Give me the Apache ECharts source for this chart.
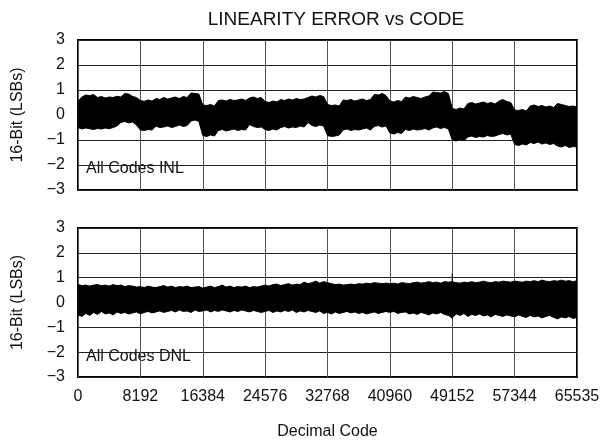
<!DOCTYPE html>
<html><head><meta charset="utf-8">
<script src="https://cdn.jsdelivr.net/npm/echarts@6/dist/echarts.min.js"></script>
<style>html,body{margin:0;padding:0;background:#fff}#c{width:603px;height:446px}</style>
</head><body><div id="c"></div>
<script>
// Sample step along the code axis (codes 0..65536, one sample every 512 codes)
const CODE_STEP = 512;
const X_TICKS = [0, 8192, 16384, 24576, 32768, 40960, 49152, 57344, 65535];
const Y_TICKS = [3, 2, 1, 0, -1, -2, -3];

// INL envelope (LSB)
const INL_UPPER = [
  0.55,0.72,0.80,0.78,0.82,0.70,0.74,0.68,0.72,0.70,0.75,0.72,0.86,0.84,0.74,0.70,
  0.58,0.55,0.60,0.56,0.66,0.62,0.70,0.64,0.68,0.72,0.66,0.74,0.70,0.88,0.86,0.84,
  0.40,0.38,0.42,0.36,0.58,0.60,0.56,0.62,0.58,0.60,0.64,0.58,0.68,0.72,0.66,0.70,
  0.54,0.50,0.56,0.52,0.62,0.58,0.64,0.60,0.66,0.62,0.64,0.70,0.76,0.72,0.78,0.74,
  0.42,0.38,0.40,0.36,0.60,0.58,0.62,0.56,0.60,0.64,0.58,0.62,0.82,0.80,0.86,0.78,
  0.56,0.52,0.58,0.54,0.72,0.68,0.74,0.70,0.66,0.72,0.76,0.92,0.90,0.88,0.94,0.86,
  0.26,0.22,0.28,0.24,0.46,0.50,0.44,0.48,0.52,0.46,0.50,0.44,0.56,0.62,0.54,0.50,
  0.20,0.18,0.22,0.16,0.36,0.40,0.34,0.38,0.32,0.36,0.30,0.46,0.42,0.38,0.34,0.36,0.32
];
const INL_LOWER = [
  -0.50,-0.56,-0.52,-0.55,-0.58,-0.54,-0.56,-0.52,-0.55,-0.50,-0.44,-0.30,-0.26,-0.32,-0.28,-0.40,
  -0.60,-0.62,-0.58,-0.60,-0.45,-0.50,-0.48,-0.44,-0.50,-0.46,-0.40,-0.46,-0.42,-0.24,-0.20,-0.26,
  -0.82,-0.86,-0.80,-0.84,-0.62,-0.58,-0.64,-0.60,-0.56,-0.62,-0.58,-0.60,-0.38,-0.46,-0.50,-0.48,
  -0.58,-0.62,-0.56,-0.60,-0.50,-0.46,-0.52,-0.48,-0.50,-0.44,-0.48,-0.30,-0.42,-0.46,-0.40,-0.44,
  -0.82,-0.86,-0.84,-0.80,-0.60,-0.56,-0.62,-0.58,-0.60,-0.56,-0.52,-0.60,-0.46,-0.42,-0.48,-0.44,
  -0.72,-0.76,-0.70,-0.74,-0.58,-0.62,-0.56,-0.60,-0.58,-0.54,-0.60,-0.52,-0.48,-0.54,-0.50,-0.56,
  -1.00,-1.04,-0.98,-1.02,-0.88,-0.84,-0.90,-0.86,-0.88,-0.82,-0.86,-0.84,-0.78,-0.74,-0.80,-0.76,
  -1.18,-1.22,-1.16,-1.20,-1.10,-1.14,-1.08,-1.16,-1.12,-1.18,-1.14,-1.24,-1.28,-1.22,-1.30,-1.26,-1.28
];

// DNL envelope (LSB)
const DNL_UPPER = [
  0.72,0.68,0.70,0.66,0.70,0.72,0.68,0.70,0.66,0.72,0.68,0.70,0.64,0.68,0.66,0.62,
  0.64,0.60,0.66,0.62,0.60,0.64,0.68,0.62,0.66,0.60,0.64,0.62,0.66,0.60,0.62,0.64,
  0.58,0.62,0.66,0.60,0.64,0.70,0.62,0.66,0.60,0.64,0.62,0.66,0.60,0.64,0.62,0.66,
  0.70,0.66,0.72,0.74,0.68,0.72,0.76,0.70,0.74,0.72,0.82,0.76,0.80,0.86,0.78,0.84,
  0.80,0.76,0.72,0.74,0.70,0.72,0.74,0.72,0.76,0.74,0.78,0.76,0.80,0.78,0.76,0.78,
  0.76,0.78,0.74,0.80,0.78,0.76,0.80,0.82,0.78,0.80,0.84,0.80,0.82,0.78,0.84,0.82,
  0.84,0.80,0.78,0.82,0.80,0.84,0.80,0.82,0.86,0.82,0.80,0.84,0.82,0.86,0.84,0.82,
  0.86,0.84,0.82,0.86,0.84,0.88,0.84,0.90,0.86,0.84,0.88,0.86,0.90,0.86,0.88,0.84,0.88
];
const DNL_LOWER = [
  -0.50,-0.56,-0.44,-0.52,-0.40,-0.48,-0.36,-0.46,-0.42,-0.50,-0.38,-0.44,-0.40,-0.46,-0.42,-0.38,
  -0.46,-0.40,-0.36,-0.42,-0.38,-0.34,-0.40,-0.36,-0.32,-0.38,-0.30,-0.36,-0.34,-0.40,-0.30,-0.36,
  -0.34,-0.30,-0.38,-0.32,-0.36,-0.30,-0.34,-0.38,-0.32,-0.36,-0.30,-0.34,-0.38,-0.32,-0.36,-0.40,
  -0.36,-0.32,-0.40,-0.34,-0.38,-0.32,-0.36,-0.30,-0.40,-0.34,-0.38,-0.32,-0.36,-0.40,-0.34,-0.44,
  -0.40,-0.46,-0.38,-0.44,-0.40,-0.36,-0.42,-0.38,-0.44,-0.40,-0.46,-0.42,-0.38,-0.44,-0.40,-0.36,
  -0.40,-0.36,-0.44,-0.40,-0.38,-0.46,-0.42,-0.48,-0.40,-0.44,-0.50,-0.42,-0.46,-0.40,-0.48,-0.52,
  -0.62,-0.46,-0.52,-0.44,-0.56,-0.48,-0.52,-0.46,-0.54,-0.50,-0.58,-0.48,-0.52,-0.56,-0.50,-0.54,
  -0.58,-0.50,-0.56,-0.60,-0.52,-0.58,-0.54,-0.62,-0.56,-0.52,-0.60,-0.66,-0.58,-0.62,-0.56,-0.64,-0.60
];
// Isolated DNL spikes [code, peak LSB]
const DNL_SPIKES = [[49152, 1.16], [49152, -0.66]];

const FONT = 'Liberation Sans, Arial, sans-serif';
const chart = echarts.init(document.getElementById('c'), null, {renderer: 'canvas'});

// one closed polygon per band: upper envelope left->right, lower envelope right->left
function bandRenderer(up, lo) {
  return function (params, api) {
    const pts = [];
    for (let i = 0; i < up.length; i++) pts.push(api.coord([i * CODE_STEP, up[i]]));
    for (let i = lo.length - 1; i >= 0; i--) pts.push(api.coord([i * CODE_STEP, lo[i]]));
    return {
      type: 'polygon',
      shape: {points: pts},
      style: {fill: '#000', stroke: '#000', lineWidth: 1}
    };
  };
}
function spikeData(sp) {
  const d = [];
  sp.forEach(([c, v]) => { d.push([c, 0], [c, v], '-'); });
  return d;
}
const fmtY = v => String(v).replace('-', '\u2212');
const fmtX = v => (v === 65536 ? String(X_TICKS[X_TICKS.length - 1]) : String(v));

function xAxis(gridIndex, showLabels) {
  return {
    type: 'value', gridIndex, min: 0, max: 65536, interval: 8192,
    axisLine: {show: false}, axisTick: {show: false},
    splitLine: {show: true, lineStyle: {color: '#555', width: 1}},
    axisLabel: {show: showLabels, formatter: fmtX, fontFamily: FONT, fontSize: 16, color: '#111', margin: 12},
    name: showLabels ? 'Decimal Code' : '', nameLocation: 'middle', nameGap: 47,
    nameTextStyle: {fontFamily: FONT, fontSize: 16, color: '#111'}
  };
}
function yAxis(gridIndex) {
  return {
    type: 'value', gridIndex, min: -3, max: 3, interval: 1,
    axisLine: {show: false}, axisTick: {show: false},
    splitLine: {show: true, lineStyle: {color: '#222', width: 1}},
    axisLabel: {formatter: fmtY, fontFamily: FONT, fontSize: 16, color: '#111', margin: 13},
    name: '16-Bit (LSBs)', nameLocation: 'middle', nameGap: 52, nameRotate: 90,
    nameTextStyle: {fontFamily: FONT, fontSize: 16, color: '#111'}
  };
}
function bandSeries(idx, up, lo) {
  return {
    type: 'custom', xAxisIndex: idx, yAxisIndex: idx, renderItem: bandRenderer(up, lo),
    data: [[0, 0]], silent: true, animation: false, clip: true
  };
}

const option = {
  animation: false,
  title: {
    text: 'LINEARITY ERROR vs CODE', left: 331, top: 5, textAlign: 'center',
    textStyle: {fontFamily: FONT, fontSize: 19, fontWeight: 'normal', color: '#111'}
  },
  grid: [
    {left: 78, top: 40, width: 499, height: 150, show: true, borderColor: '#000', borderWidth: 2, backgroundColor: 'transparent'},
    {left: 78, top: 228, width: 499, height: 149, show: true, borderColor: '#000', borderWidth: 2, backgroundColor: 'transparent'}
  ],
  xAxis: [xAxis(0, false), xAxis(1, true)],
  yAxis: [yAxis(0), yAxis(1)],
  graphic: [
    {type: 'text', left: 86, top: 161, style: {text: 'All Codes INL', font: '16px ' + FONT, fill: '#111'}},
    {type: 'text', left: 86, top: 349, style: {text: 'All Codes DNL', font: '16px ' + FONT, fill: '#111'}}
  ],
  series: [
    bandSeries(0, INL_UPPER, INL_LOWER),
    bandSeries(1, DNL_UPPER, DNL_LOWER),
    {type: 'line', xAxisIndex: 1, yAxisIndex: 1, data: spikeData(DNL_SPIKES), symbol: 'none',
     lineStyle: {width: 1.2, color: '#000'}, connectNulls: false, silent: true}
  ]
};
chart.setOption(option);
</script>
</body></html>
